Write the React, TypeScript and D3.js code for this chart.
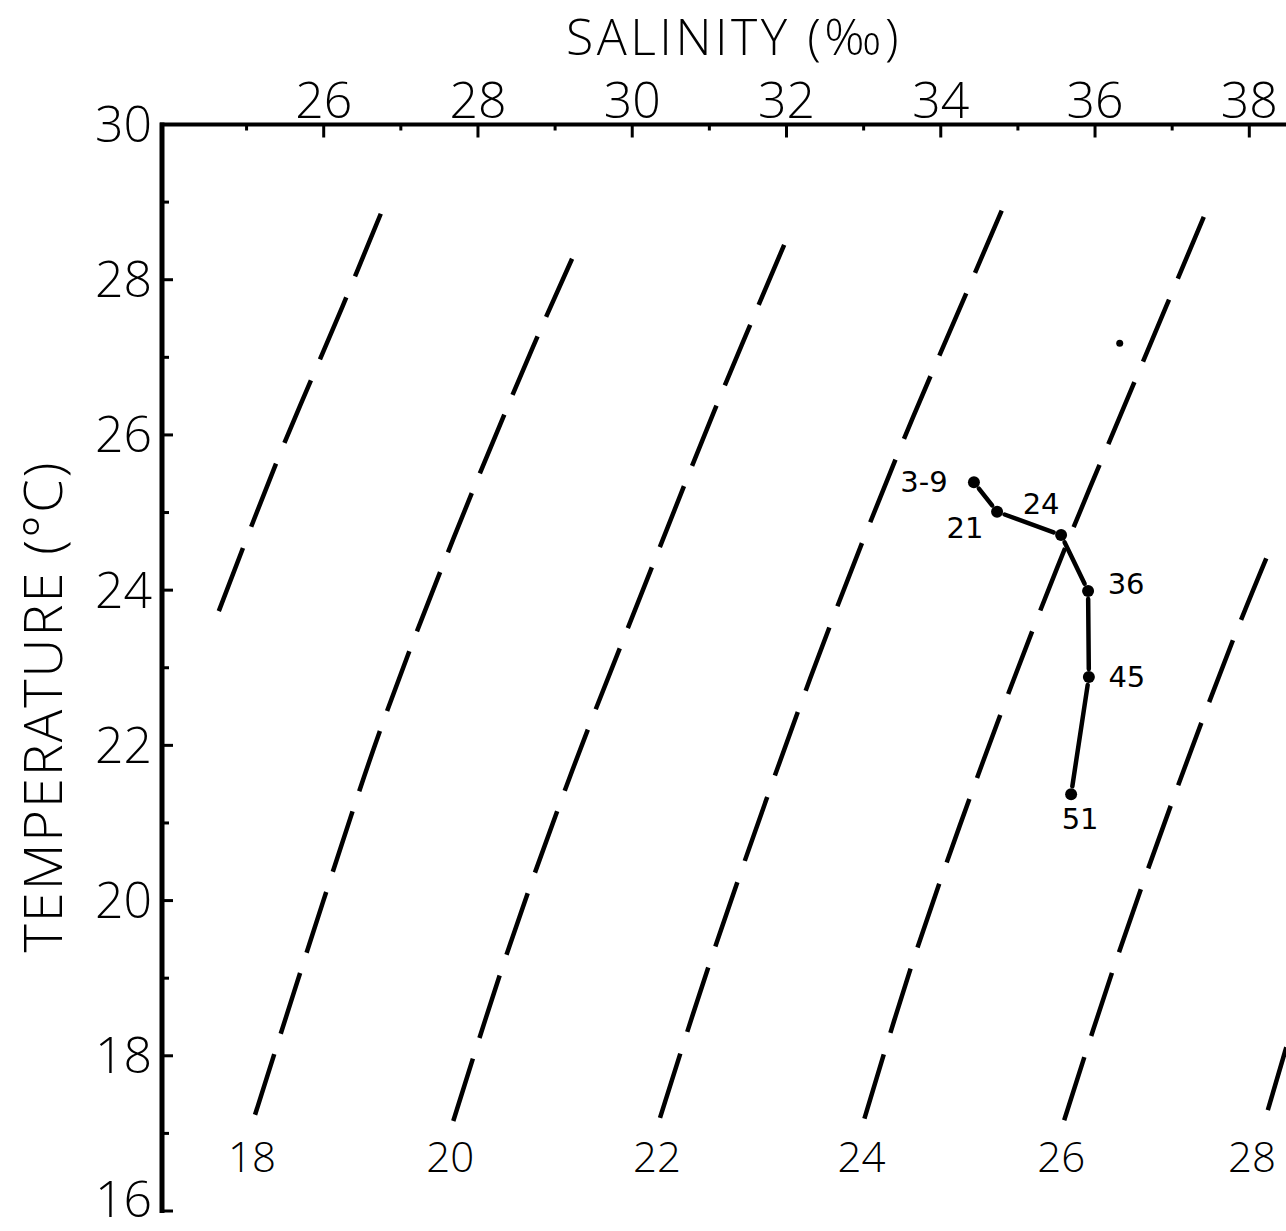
import React, { useEffect, useRef } from 'react';
import * as d3 from 'd3';

// Stations: salinity (‰) and temperature (°C), in profile order
const stationIds = ['3-9', '21', '24', '36', '45', '51'];
const stationSalinity = [34.43, 34.73, 35.56, 35.91, 35.92, 35.69];
const stationTemp = [25.39, 25.01, 24.71, 23.99, 22.88, 21.37];

// lone unlabelled observation
const extraSalinity = [36.32];
const extraTemp = [27.18];

// sigma-t isopycnals, listed bottom -> top
const sigmaLevels = [16, 18, 20, 22, 24, 26, 28];
const sigmaSalinity = [
  [24.64, 25.41, 26.25, 26.74],
  [25.11, 25.99, 26.77, 27.68, 28.69, 29.22],
  [27.68, 28.4, 29.22, 30.13, 31.06, 31.97],
  [30.36, 31.03, 32.31, 33.42, 34.38, 34.79],
  [33.01, 33.65, 34.54, 35.51, 36.62, 37.41],
  [35.6, 36.22, 37.01, 37.79, 38.22],
  [38.24, 38.48],
];
const sigmaTemp = [
  [23.73, 25.7, 27.67, 28.85],
  [17.24, 19.98, 22.3, 24.66, 27.08, 28.27],
  [17.16, 19.39, 21.67, 23.98, 26.3, 28.45],
  [17.2, 19.27, 22.87, 25.7, 27.94, 28.89],
  [17.19, 19.25, 21.77, 24.29, 26.94, 28.81],
  [17.17, 19.07, 21.3, 23.36, 24.41],
  [17.3, 18.11],
];
const labelledSigma = [18, 20, 22, 24, 26, 28];

const salinityTicks = [26, 28, 30, 32, 34, 36, 38];
const salinityMinor = [25, 27, 29, 31, 33, 35, 37];
const tempTicks = [16, 18, 20, 22, 24, 26, 28, 30];
const tempMinor = [17, 19, 21, 23, 25, 27, 29];

const W = 1286;
const H = 1231;
const FONT = '"Open Sans", "Liberation Sans", sans-serif';
const HAND = '"DejaVu Sans", sans-serif';

// where each station number sits relative to its dot
const labelSide: Record<string, [number, number]> = {
  '3-9': [-50, 10],
  '21': [-32, 26],
  '24': [-20, -21],
  '36': [38, 3],
  '45': [38, 10],
  '51': [9, 35],
};

const TSDiagram: React.FC = () => {
  const ref = useRef<SVGSVGElement>(null);

  useEffect(() => {
    if (!ref.current) return;
    const svg = d3.select(ref.current);
    svg.selectAll('*').remove();

    const x = d3.scaleLinear().domain([26, 38]).range([323.7, 1249.3]);
    const y = d3.scaleLinear().domain([16, 30]).range([1211, 124.5]);
    const left = 162;
    const top = y(30);

    svg.append('rect').attr('width', W).attr('height', H).attr('fill', '#fff');

    svg.append('clipPath').attr('id', 'plot')
      .append('rect')
      .attr('x', left).attr('y', top)
      .attr('width', W - left).attr('height', y(16) - top);

    // isopycnals
    const line = d3.line<[number, number]>()
      .x(d => x(d[0]))
      .y(d => y(d[1]))
      .curve(d3.curveCatmullRom);

    const iso = svg.append('g').attr('clip-path', 'url(#plot)');
    sigmaLevels.forEach((lvl, i) => {
      const pts = sigmaSalinity[i].map((s, j) => [s, sigmaTemp[i][j]] as [number, number]);
      const path = iso.append('path')
        .attr('d', line(pts))
        .attr('fill', 'none')
        .attr('stroke', '#000')
        .attr('stroke-width', 4.5);
      // stretch the dash pattern so every line starts and ends on a dash
      const L = (path.node() as SVGPathElement).getTotalLength();
      const dash = 66, gap = 22;
      const n = Math.max(1, Math.round((L + gap) / (dash + gap)));
      const k = L / (n * dash + (n - 1) * gap);
      path.attr('stroke-dasharray', n > 1 ? `${dash * k} ${gap * k}` : null);
    });

    // isopycnal labels under the lower ends
    labelledSigma.forEach(lvl => {
      const i = sigmaLevels.indexOf(lvl);
      const sx = Math.min(x(sigmaSalinity[i][0]) - 3, 1252);
      svg.append('text')
        .attr('x', sx)
        .attr('y', y(16.5))
        .attr('text-anchor', 'middle')
        .attr('font-family', FONT)
        .attr('font-weight', 300)
        .attr('font-size', 42)
        .text(lvl);
    });

    // axes
    svg.append('line')
      .attr('x1', left).attr('x2', left)
      .attr('y1', top - 2).attr('y2', y(16) + 2)
      .attr('stroke', '#000').attr('stroke-width', 5);
    svg.append('line')
      .attr('x1', left - 2).attr('x2', W)
      .attr('y1', top).attr('y2', top)
      .attr('stroke', '#000').attr('stroke-width', 4);

    svg.selectAll('.sx-major').data(salinityTicks).enter().append('line')
      .attr('x1', d => x(d)).attr('x2', d => x(d))
      .attr('y1', top).attr('y2', top + 13)
      .attr('stroke', '#000').attr('stroke-width', 3);
    svg.selectAll('.sx-minor').data(salinityMinor).enter().append('line')
      .attr('x1', d => x(d)).attr('x2', d => x(d))
      .attr('y1', top).attr('y2', top + 6)
      .attr('stroke', '#000').attr('stroke-width', 3);
    svg.selectAll('.sx-label').data(salinityTicks).enter().append('text')
      .attr('x', d => x(d))
      .attr('y', top - 7)
      .attr('text-anchor', 'middle')
      .attr('font-family', FONT)
      .attr('font-weight', 300)
      .attr('font-size', 50)
      .text(d => d);

    svg.selectAll('.ty-major').data(tempTicks).enter().append('line')
      .attr('x1', left).attr('x2', left + 11)
      .attr('y1', d => y(d)).attr('y2', d => y(d))
      .attr('stroke', '#000').attr('stroke-width', 3);
    svg.selectAll('.ty-minor').data(tempMinor).enter().append('line')
      .attr('x1', left).attr('x2', left + 7)
      .attr('y1', d => y(d)).attr('y2', d => y(d))
      .attr('stroke', '#000').attr('stroke-width', 3);
    svg.selectAll('.ty-label').data(tempTicks).enter().append('text')
      .attr('x', left - 10)
      .attr('y', d => Math.min(y(d), 1199))
      .attr('dy', '0.35em')
      .attr('text-anchor', 'end')
      .attr('font-family', FONT)
      .attr('font-weight', 300)
      .attr('font-size', 50)
      .text(d => d);

    // axis titles
    svg.append('text')
      .attr('x', 734).attr('y', 55)
      .attr('text-anchor', 'middle')
      .attr('font-family', FONT)
      .attr('font-weight', 300)
      .attr('font-size', 50)
      .attr('letter-spacing', 3.5)
      .text('SALINITY (‰)');
    svg.append('text')
      .attr('transform', `translate(62,${y(22.5)}) rotate(-90)`)
      .attr('text-anchor', 'middle')
      .attr('font-family', FONT)
      .attr('font-weight', 300)
      .attr('font-size', 54)
      .attr('letter-spacing', 2)
      .text('TEMPERATURE (°C)');

    // station profile
    const pts = stationIds.map((id, i) => ({
      id,
      px: x(stationSalinity[i]),
      py: y(stationTemp[i]),
    }));
    const gap = 8;
    d3.pairs(pts).forEach(([a, b]) => {
      const dx = b.px - a.px;
      const dy = b.py - a.py;
      const len = Math.hypot(dx, dy);
      const ux = dx / len;
      const uy = dy / len;
      svg.append('line')
        .attr('x1', a.px + ux * gap).attr('y1', a.py + uy * gap)
        .attr('x2', b.px - ux * gap).attr('y2', b.py - uy * gap)
        .attr('stroke', '#000')
        .attr('stroke-width', 4.5)
        .attr('stroke-linecap', 'round');
    });

    svg.selectAll('.dot').data(pts).enter().append('circle')
      .attr('cx', d => d.px).attr('cy', d => d.py)
      .attr('r', 6)
      .attr('fill', '#000');

    svg.selectAll('.extra').data(extraSalinity).enter().append('circle')
      .attr('cx', d => x(d)).attr('cy', (d, i) => y(extraTemp[i]))
      .attr('r', 3.5)
      .attr('fill', '#000');

    svg.selectAll('.st-label').data(pts).enter().append('text')
      .attr('x', d => d.px + labelSide[d.id][0])
      .attr('y', d => d.py + labelSide[d.id][1])
      .attr('text-anchor', 'middle')
      .attr('font-family', HAND)
      .attr('font-size', 29)
      .text(d => d.id);
  }, []);

  return (
    <svg
      ref={ref}
      width={W}
      height={H}
      style={{ position: 'absolute', left: 0, top: 0, background: '#fff' }}
    />
  );
};

export default function App() {
  return <TSDiagram />;
}
